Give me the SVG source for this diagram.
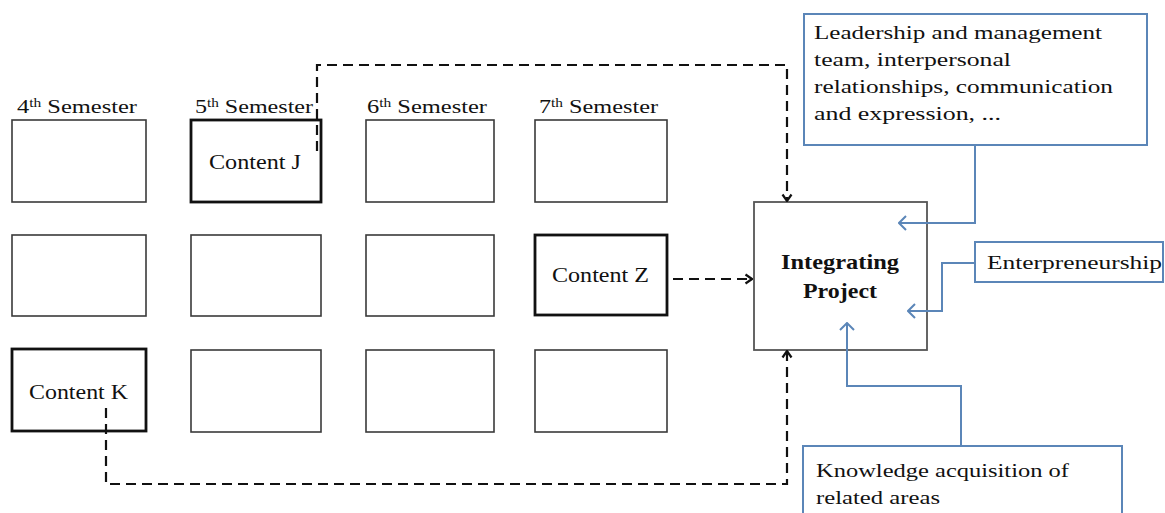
<svg xmlns="http://www.w3.org/2000/svg" width="1165" height="513" viewBox="0 0 1165 513">
  <style>
    .cell { fill: #fff; stroke: #3a3a3a; stroke-width: 1.6; }
    .cell-key { fill: #fff; stroke: #111; stroke-width: 2.8; }
    .core { fill: #fff; stroke: #555; stroke-width: 1.8; }
    .note { fill: #fff; stroke: #5b86b8; stroke-width: 2; }
    .t { font-family: "Liberation Serif", "Times New Roman", serif; fill: #111; }
    .sem { font-size: 19px; }
    .sup { font-size: 12px; }
    .lbl { font-size: 20px; }
    .bold { font-size: 21px; font-weight: bold; }
    .note-t { font-size: 19px; }
    .dash { fill: none; stroke: #111; stroke-width: 2.2; stroke-dasharray: 10 6; }
    .feed { fill: none; stroke: #5b86b8; stroke-width: 2; }
  </style>
  <defs>
    <marker id="arrow-dark" viewBox="0 0 12 12" refX="11" refY="6" markerWidth="12" markerHeight="12" markerUnits="userSpaceOnUse" orient="auto">
      <path d="M4.5,1.5 L11,6 L4.5,10.5" fill="none" stroke="#111" stroke-width="2.2" stroke-dasharray="none"/>
    </marker>
    <marker id="arrow-blue" viewBox="0 0 16 16" refX="15" refY="8" markerWidth="16" markerHeight="16" markerUnits="userSpaceOnUse" orient="auto">
      <path d="M8,1 L15,8 L8,15" fill="none" stroke="#5b86b8" stroke-width="2"/>
    </marker>
  </defs>

  <rect width="1165" height="513" fill="#fff"/>

  <!-- semester headings -->
  <g id="headings">
    <text class="t sem" x="17" y="113" textLength="120" lengthAdjust="spacingAndGlyphs">4<tspan class="sup" dy="-6">th</tspan><tspan dy="6"> Semester</tspan></text>
    <text class="t sem" x="195" y="113" textLength="118" lengthAdjust="spacingAndGlyphs">5<tspan class="sup" dy="-6">th</tspan><tspan dy="6"> Semester</tspan></text>
    <text class="t sem" x="367" y="113" textLength="120" lengthAdjust="spacingAndGlyphs">6<tspan class="sup" dy="-6">th</tspan><tspan dy="6"> Semester</tspan></text>
    <text class="t sem" x="539" y="113" textLength="119" lengthAdjust="spacingAndGlyphs">7<tspan class="sup" dy="-6">th</tspan><tspan dy="6"> Semester</tspan></text>
  </g>

  <!-- semester content grid -->
  <g id="s4-r1"><rect class="cell" x="12" y="120" width="134" height="82"/></g>
  <g id="content-j"><rect class="cell-key" x="191" y="120" width="130" height="82"/>
    <text class="t lbl" x="209" y="169" textLength="92" lengthAdjust="spacingAndGlyphs">Content J</text></g>
  <g id="s6-r1"><rect class="cell" x="366" y="120" width="128" height="82"/></g>
  <g id="s7-r1"><rect class="cell" x="535" y="120" width="132" height="82"/></g>

  <g id="s4-r2"><rect class="cell" x="12" y="235" width="134" height="81"/></g>
  <g id="s5-r2"><rect class="cell" x="191" y="235" width="130" height="81"/></g>
  <g id="s6-r2"><rect class="cell" x="366" y="235" width="128" height="81"/></g>
  <g id="content-z"><rect class="cell-key" x="535" y="235" width="132" height="80"/>
    <text class="t lbl" x="552" y="282" textLength="97" lengthAdjust="spacingAndGlyphs">Content Z</text></g>

  <g id="content-k"><rect class="cell-key" x="12" y="349" width="134" height="82"/>
    <text class="t lbl" x="29" y="399" textLength="99" lengthAdjust="spacingAndGlyphs">Content K</text></g>
  <g id="s5-r3"><rect class="cell" x="191" y="350" width="130" height="82"/></g>
  <g id="s6-r3"><rect class="cell" x="366" y="350" width="128" height="82"/></g>
  <g id="s7-r3"><rect class="cell" x="535" y="350" width="132" height="82"/></g>

  <!-- integrating project -->
  <g id="integrating-project">
    <rect class="core" x="754" y="202" width="173" height="148"/>
    <text class="t bold" x="781" y="269" textLength="118" lengthAdjust="spacingAndGlyphs">Integrating</text>
    <text class="t bold" x="803" y="298" textLength="74" lengthAdjust="spacingAndGlyphs">Project</text>
  </g>

  <!-- competence notes -->
  <g id="soft-skills">
    <rect class="note" x="804" y="14" width="343" height="131"/>
    <text class="t note-t" x="814" y="39" textLength="288" lengthAdjust="spacingAndGlyphs">Leadership and management</text>
    <text class="t note-t" x="814" y="66" textLength="197" lengthAdjust="spacingAndGlyphs">team, interpersonal</text>
    <text class="t note-t" x="814" y="93" textLength="299" lengthAdjust="spacingAndGlyphs">relationships, communication</text>
    <text class="t note-t" x="814" y="120" textLength="187" lengthAdjust="spacingAndGlyphs">and expression, ...</text>
  </g>
  <g id="entrepreneurship">
    <rect class="note" x="975" y="242" width="188" height="40"/>
    <text class="t note-t" x="987" y="269" textLength="175" lengthAdjust="spacingAndGlyphs">Enterpreneurship</text>
  </g>
  <g id="knowledge">
    <rect class="note" x="803" y="446" width="319" height="80"/>
    <text class="t note-t" x="816" y="477" textLength="253" lengthAdjust="spacingAndGlyphs">Knowledge acquisition of</text>
    <text class="t note-t" x="816" y="504" textLength="124" lengthAdjust="spacingAndGlyphs">related areas</text>
  </g>

  <!-- connectors -->
  <g id="connectors">
    <path class="dash" d="M317,151 V65 H787 V201" marker-end="url(#arrow-dark)"/>
    <path class="dash" d="M673,279 H752" marker-end="url(#arrow-dark)"/>
    <path class="dash" d="M106,408 V484 H787 V351" marker-end="url(#arrow-dark)"/>
    <path class="feed" d="M975,145 V223 H899" marker-end="url(#arrow-blue)"/>
    <path class="feed" d="M975,263 H942 V311 H908" marker-end="url(#arrow-blue)"/>
    <path class="feed" d="M961,446 V386 H847 V323" marker-end="url(#arrow-blue)"/>
  </g>
</svg>
